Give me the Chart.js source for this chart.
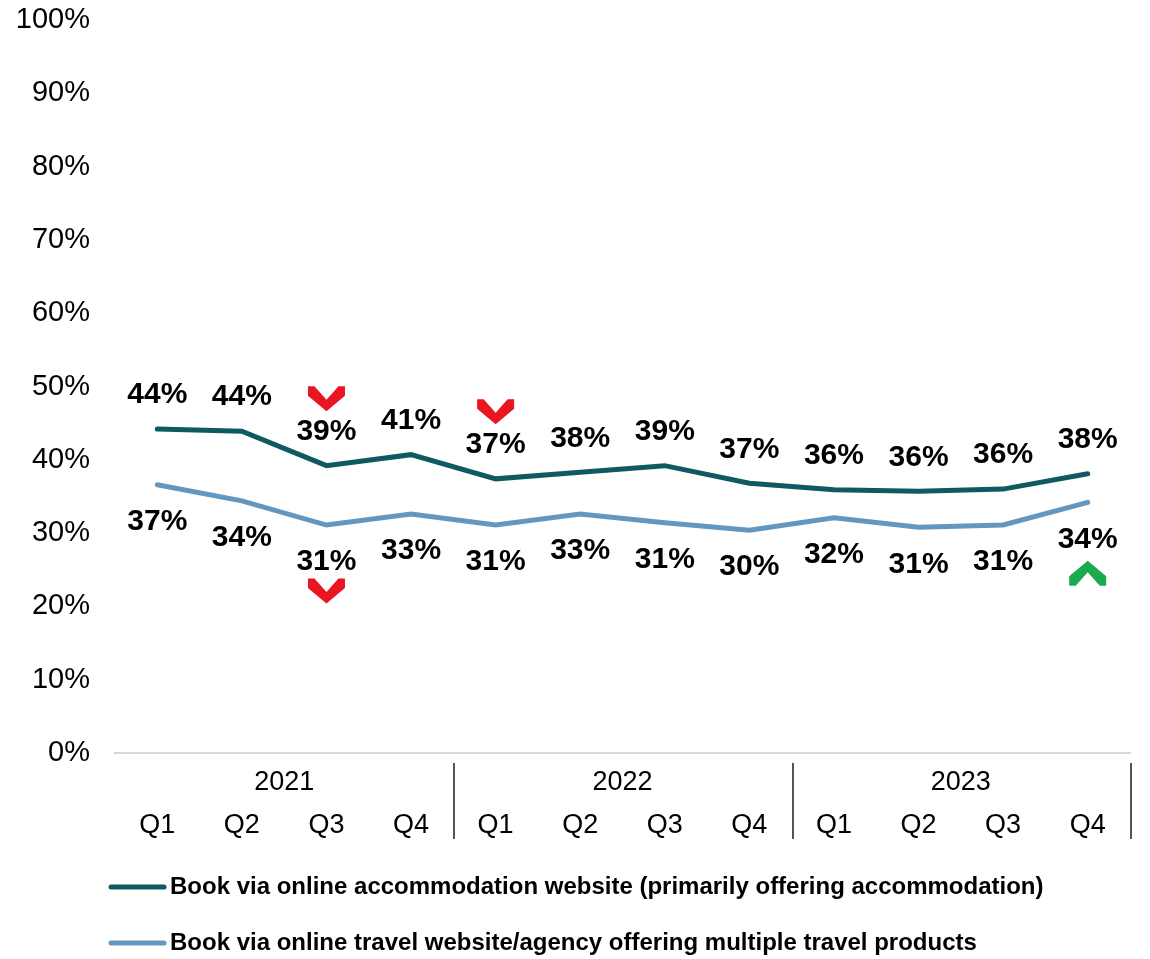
<!DOCTYPE html>
<html>
<head>
<meta charset="utf-8">
<script src="https://cdn.jsdelivr.net/npm/chart.js@4/dist/chart.umd.min.js"></script>
<style>
  html, body { margin: 0; padding: 0; background: #fff; }
  #wrap { width: 1150px; height: 959px; }
</style>
</head>
<body>
<div id="wrap"><canvas id="grafico"></canvas></div>
<script>
// datos
var quarters = ["Q1", "Q2", "Q3", "Q4", "Q1", "Q2", "Q3", "Q4", "Q1", "Q2", "Q3", "Q4"];
var years = ["2021", "2022", "2023"];
var accommodation = [44.2, 43.9, 39.2, 40.7, 37.4, 38.3, 39.2, 36.8, 35.9, 35.7, 36.0, 38.1];
var travelAgency = [36.6, 34.4, 31.1, 32.6, 31.1, 32.6, 31.4, 30.4, 32.1, 30.8, 31.1, 34.2];
var seriesNames = [
  "Book via online accommodation website (primarily offering accommodation)",
  "Book via online travel website/agency offering multiple travel products"
];
var yTicks = [0, 10, 20, 30, 40, 50, 60, 70, 80, 90, 100];
// flechas de cambio significativo: serie, indice, direccion
var arrowSeries = [0, 0, 1, 1];
var arrowIndex = [2, 4, 2, 11];
var arrowDir = ["down", "down", "down", "up"];

var darkColor = "#0f5a60";
var lightColor = "#6497bf";
var fontFam = "'Liberation Sans', Arial, sans-serif";

var labelsPlugin = {
  id: "etiquetas",
  afterDatasetsDraw: function(chart) {
    var ctx = chart.ctx;
    ctx.save();
    ctx.font = "bold 30px " + fontFam;
    ctx.fillStyle = "#000";
    ctx.textAlign = "center";
    ctx.textBaseline = "middle";
    chart.data.datasets.forEach(function(ds, d) {
      var meta = chart.getDatasetMeta(d);
      meta.data.forEach(function(pt, i) {
        var off = d === 0 ? -34 : 37;
        ctx.fillText(Math.round(ds.data[i]) + "%", pt.x, pt.y + off);
      });
    });
    // flechas
    for (var k = 0; k < arrowIndex.length; k++) {
      var pt = chart.getDatasetMeta(arrowSeries[k]).data[arrowIndex[k]];
      var labelY = pt.y + (arrowSeries[k] === 0 ? -34 : 37);
      var cy = arrowSeries[k] === 0 ? labelY - 33 : labelY + (arrowDir[k] === "up" ? 34 : 29);
      var s = arrowDir[k] === "down" ? 1 : -1;
      ctx.fillStyle = arrowDir[k] === "down" ? "#ea1521" : "#1bab4f";
      ctx.beginPath();
      ctx.moveTo(pt.x - 18.5, cy - 12.5 * s);
      ctx.lineTo(pt.x - 12, cy - 12.5 * s);
      ctx.lineTo(pt.x, cy + 1 * s);
      ctx.lineTo(pt.x + 12, cy - 12.5 * s);
      ctx.lineTo(pt.x + 18.5, cy - 12.5 * s);
      ctx.lineTo(pt.x + 18.5, cy - 3 * s);
      ctx.lineTo(pt.x, cy + 12.5 * s);
      ctx.lineTo(pt.x - 18.5, cy - 3 * s);
      ctx.closePath();
      ctx.fill();
    }
    ctx.restore();
  },
  afterDraw: function(chart) {
    var ctx = chart.ctx;
    var x = chart.scales.x;
    var bottom = chart.chartArea.bottom;
    var step = x.getPixelForValue(1) - x.getPixelForValue(0);
    ctx.save();
    // años y separadores
    ctx.font = "27px " + fontFam;
    ctx.fillStyle = "#000";
    ctx.textAlign = "center";
    ctx.textBaseline = "middle";
    ctx.strokeStyle = "#555";
    ctx.lineWidth = 2;
    years.forEach(function(y, g) {
      var cx = (x.getPixelForValue(g * 4 + 1) + x.getPixelForValue(g * 4 + 2)) / 2;
      ctx.fillText(y, cx, bottom + 30);
      var sx = Math.round(x.getPixelForValue(g * 4 + 3) + step / 2) + 1;
      ctx.beginPath();
      ctx.moveTo(sx, bottom + 10);
      ctx.lineTo(sx, bottom + 86);
      ctx.stroke();
    });
    // leyenda
    ctx.font = "bold 24px " + fontFam;
    ctx.textAlign = "left";
    ctx.lineCap = "round";
    chart.data.datasets.forEach(function(ds, d) {
      var ly = bottom + 134 + d * 56;
      ctx.strokeStyle = ds.borderColor;
      ctx.lineWidth = 5;
      ctx.beginPath();
      ctx.moveTo(111, ly);
      ctx.lineTo(164, ly);
      ctx.stroke();
      ctx.fillStyle = "#000";
      ctx.fillText(ds.label, 170, ly);
    });
    ctx.restore();
  }
};

var ctx = document.getElementById("grafico");

var grafico = new Chart(ctx, {
  type: "line",
  data: {
    labels: quarters,
    datasets: [
      {
        label: seriesNames[0],
        data: accommodation,
        borderColor: darkColor,
        backgroundColor: darkColor,
        borderWidth: 5,
        borderCapStyle: "round",
        pointRadius: 0,
        tension: 0
      },
      {
        label: seriesNames[1],
        data: travelAgency,
        borderColor: lightColor,
        backgroundColor: lightColor,
        borderWidth: 5,
        borderCapStyle: "round",
        pointRadius: 0,
        tension: 0
      }
    ]
  },
  options: {
    responsive: true,
    maintainAspectRatio: false,
    animation: false,
    layout: { padding: { left: 15, right: 20, top: 20, bottom: 111 } },
    plugins: {
      legend: { display: false },
      tooltip: { enabled: false }
    },
    scales: {
      x: {
        offset: true,
        grid: { display: false, drawTicks: false },
        border: { display: true, color: "#d9d9d9", width: 2 },
        ticks: {
          color: "#000",
          padding: 56,
          maxRotation: 0,
          autoSkip: false,
          font: { family: fontFam, size: 27 }
        },
        afterFit: function(scale) {
          scale.height = 95;
          scale.paddingLeft = 0;
          scale.paddingRight = 0;
        }
      },
      y: {
        min: 0,
        max: 100,
        grid: { display: false, drawTicks: false },
        border: { display: false },
        afterBuildTicks: function(scale) {
          scale.ticks = yTicks.map(function(v) { return { value: v }; });
        },
        ticks: {
          color: "#000",
          padding: 25,
          callback: function(v) { return v + "%"; },
          font: { family: fontFam, size: 29 }
        },
        afterFit: function(scale) {
          scale.width = 100;
          scale.paddingTop = 0;
          scale.paddingBottom = 0;
        }
      }
    }
  },
  plugins: [labelsPlugin]
});
</script>
</body>
</html>
